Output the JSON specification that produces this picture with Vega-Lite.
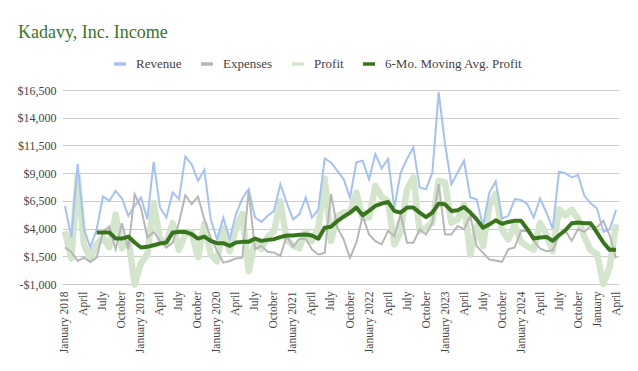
{
  "$schema": "https://vega.github.io/schema/vega-lite/v6.json",
  "width": 557,
  "height": 194,
  "autosize": {"type": "none"},
  "padding": {"left": 62, "top": 90, "right": 19, "bottom": 87},
  "background": "white",
  "title": {"text": "Kadavy, Inc. Income", "anchor": "start", "frame": "group", "color": "#38761d", "fontSize": 18, "fontWeight": "normal", "font": "Liberation Serif", "dx": -44, "offset": 14},
  "config": {"font": "Liberation Serif", "view": {"stroke": null}},
  "data": {"values": [
    {"d":"2018-01","Revenue":6050,"Expenses":2300,"Profit":3750,"MA":null},
    {"d":"2018-02","Revenue":3190,"Expenses":1890,"Profit":1300,"MA":null},
    {"d":"2018-03","Revenue":9810,"Expenses":1080,"Profit":8730,"MA":null},
    {"d":"2018-04","Revenue":3940,"Expenses":1380,"Profit":2560,"MA":null},
    {"d":"2018-05","Revenue":2290,"Expenses":990,"Profit":1300,"MA":null},
    {"d":"2018-06","Revenue":3940,"Expenses":1380,"Profit":2560,"MA":3640},
    {"d":"2018-07","Revenue":6890,"Expenses":3700,"Profit":3190,"MA":3640},
    {"d":"2018-08","Revenue":6500,"Expenses":4180,"Profit":2320,"MA":3640},
    {"d":"2018-09","Revenue":7400,"Expenses":2140,"Profit":5260,"MA":3100},
    {"d":"2018-10","Revenue":6710,"Expenses":4480,"Profit":2230,"MA":3100},
    {"d":"2018-11","Revenue":5150,"Expenses":2140,"Profit":3010,"MA":3280},
    {"d":"2018-12","Revenue":6050,"Expenses":7100,"Profit":-1050,"MA":2740},
    {"d":"2019-01","Revenue":6800,"Expenses":5900,"Profit":900,"MA":2290},
    {"d":"2019-02","Revenue":4850,"Expenses":3190,"Profit":1660,"MA":2350},
    {"d":"2019-03","Revenue":10020,"Expenses":3700,"Profit":6320,"MA":2500},
    {"d":"2019-04","Revenue":5900,"Expenses":2890,"Profit":3010,"MA":2650},
    {"d":"2019-05","Revenue":5000,"Expenses":2290,"Profit":2710,"MA":2740},
    {"d":"2019-06","Revenue":7250,"Expenses":2740,"Profit":4510,"MA":3640},
    {"d":"2019-07","Revenue":6650,"Expenses":4550,"Profit":2100,"MA":3700},
    {"d":"2019-08","Revenue":10500,"Expenses":7010,"Profit":3490,"MA":3700},
    {"d":"2019-09","Revenue":9810,"Expenses":6200,"Profit":3610,"MA":3490},
    {"d":"2019-10","Revenue":8300,"Expenses":6890,"Profit":1410,"MA":3100},
    {"d":"2019-11","Revenue":9300,"Expenses":4850,"Profit":4450,"MA":3280},
    {"d":"2019-12","Revenue":4850,"Expenses":3190,"Profit":1660,"MA":2890},
    {"d":"2020-01","Revenue":3040,"Expenses":1990,"Profit":1050,"MA":2680},
    {"d":"2020-02","Revenue":5000,"Expenses":930,"Profit":4070,"MA":2680},
    {"d":"2020-03","Revenue":3040,"Expenses":1080,"Profit":1960,"MA":2440},
    {"d":"2020-04","Revenue":5300,"Expenses":1300,"Profit":4000,"MA":2740},
    {"d":"2020-05","Revenue":6710,"Expenses":1380,"Profit":5330,"MA":2800},
    {"d":"2020-06","Revenue":7550,"Expenses":7400,"Profit":150,"MA":2800},
    {"d":"2020-07","Revenue":5000,"Expenses":2140,"Profit":2860,"MA":3100},
    {"d":"2020-08","Revenue":4600,"Expenses":2440,"Profit":2160,"MA":2890},
    {"d":"2020-09","Revenue":5150,"Expenses":1900,"Profit":3250,"MA":2980},
    {"d":"2020-10","Revenue":5600,"Expenses":1830,"Profit":3770,"MA":3040},
    {"d":"2020-11","Revenue":8000,"Expenses":1530,"Profit":6470,"MA":3230},
    {"d":"2020-12","Revenue":6340,"Expenses":3320,"Profit":3020,"MA":3380},
    {"d":"2021-01","Revenue":4830,"Expenses":2360,"Profit":2470,"MA":3380},
    {"d":"2021-02","Revenue":5290,"Expenses":3080,"Profit":2210,"MA":3440},
    {"d":"2021-03","Revenue":6800,"Expenses":3080,"Profit":3720,"MA":3470},
    {"d":"2021-04","Revenue":4980,"Expenses":2110,"Profit":2870,"MA":3380},
    {"d":"2021-05","Revenue":5740,"Expenses":1660,"Profit":4080,"MA":3080},
    {"d":"2021-06","Revenue":10330,"Expenses":1810,"Profit":8520,"MA":4080},
    {"d":"2021-07","Revenue":9970,"Expenses":7100,"Profit":2870,"MA":4170},
    {"d":"2021-08","Revenue":9210,"Expenses":4080,"Profit":5130,"MA":4680},
    {"d":"2021-09","Revenue":8460,"Expenses":3020,"Profit":5440,"MA":5070},
    {"d":"2021-10","Revenue":6800,"Expenses":1360,"Profit":5440,"MA":5440},
    {"d":"2021-11","Revenue":9970,"Expenses":2720,"Profit":7250,"MA":5890},
    {"d":"2021-12","Revenue":10120,"Expenses":5130,"Profit":4990,"MA":5200},
    {"d":"2022-01","Revenue":8460,"Expenses":3470,"Profit":4990,"MA":5590},
    {"d":"2022-02","Revenue":10720,"Expenses":2870,"Profit":7850,"MA":6040},
    {"d":"2022-03","Revenue":9420,"Expenses":2570,"Profit":6850,"MA":6250},
    {"d":"2022-04","Revenue":10270,"Expenses":3780,"Profit":6490,"MA":6400},
    {"d":"2022-05","Revenue":5900,"Expenses":3320,"Profit":2580,"MA":5590},
    {"d":"2022-06","Revenue":9060,"Expenses":5350,"Profit":3710,"MA":5440},
    {"d":"2022-07","Revenue":10270,"Expenses":2720,"Profit":7550,"MA":5890},
    {"d":"2022-08","Revenue":11330,"Expenses":2720,"Profit":8610,"MA":5890},
    {"d":"2022-09","Revenue":7700,"Expenses":3930,"Profit":3770,"MA":5440},
    {"d":"2022-10","Revenue":7550,"Expenses":3470,"Profit":4080,"MA":5040},
    {"d":"2022-11","Revenue":9060,"Expenses":4530,"Profit":4530,"MA":5440},
    {"d":"2022-12","Revenue":16300,"Expenses":8000,"Profit":8300,"MA":6250},
    {"d":"2023-01","Revenue":11630,"Expenses":3470,"Profit":8160,"MA":6190},
    {"d":"2023-02","Revenue":8000,"Expenses":3470,"Profit":4530,"MA":5590},
    {"d":"2023-03","Revenue":9060,"Expenses":4230,"Profit":4830,"MA":5650},
    {"d":"2023-04","Revenue":10120,"Expenses":3930,"Profit":6190,"MA":5950},
    {"d":"2023-05","Revenue":6800,"Expenses":5140,"Profit":1660,"MA":5440},
    {"d":"2023-06","Revenue":6650,"Expenses":2420,"Profit":4230,"MA":4830},
    {"d":"2023-07","Revenue":4230,"Expenses":1810,"Profit":2420,"MA":4080},
    {"d":"2023-08","Revenue":7250,"Expenses":1210,"Profit":6040,"MA":4380},
    {"d":"2023-09","Revenue":8250,"Expenses":1120,"Profit":7130,"MA":4740},
    {"d":"2023-10","Revenue":4900,"Expenses":1000,"Profit":3900,"MA":4430},
    {"d":"2023-11","Revenue":5150,"Expenses":2140,"Profit":3010,"MA":4600},
    {"d":"2023-12","Revenue":6650,"Expenses":2290,"Profit":4360,"MA":4700},
    {"d":"2024-01","Revenue":6590,"Expenses":3790,"Profit":2800,"MA":4700},
    {"d":"2024-02","Revenue":6200,"Expenses":3800,"Profit":2400,"MA":3940},
    {"d":"2024-03","Revenue":5000,"Expenses":2900,"Profit":2100,"MA":3100},
    {"d":"2024-04","Revenue":6710,"Expenses":2200,"Profit":4510,"MA":3190},
    {"d":"2024-05","Revenue":5450,"Expenses":1960,"Profit":3490,"MA":3250},
    {"d":"2024-06","Revenue":4000,"Expenses":2050,"Profit":1950,"MA":2890},
    {"d":"2024-07","Revenue":9120,"Expenses":3400,"Profit":5720,"MA":3400},
    {"d":"2024-08","Revenue":9000,"Expenses":3800,"Profit":5200,"MA":3850},
    {"d":"2024-09","Revenue":8610,"Expenses":2900,"Profit":5710,"MA":4480},
    {"d":"2024-10","Revenue":8820,"Expenses":3950,"Profit":4870,"MA":4540},
    {"d":"2024-11","Revenue":6950,"Expenses":3700,"Profit":3250,"MA":4480},
    {"d":"2024-12","Revenue":6290,"Expenses":4250,"Profit":2040,"MA":4480},
    {"d":"2025-01","Revenue":5810,"Expenses":4100,"Profit":1710,"MA":3640},
    {"d":"2025-02","Revenue":3700,"Expenses":4700,"Profit":-1000,"MA":2740},
    {"d":"2025-03","Revenue":3940,"Expenses":3400,"Profit":540,"MA":2080},
    {"d":"2025-04","Revenue":5690,"Expenses":1300,"Profit":4390,"MA":2080}
  ]},
  "encoding": {
    "x": {
      "field": "d", "type": "ordinal",
      "scale": {"type": "point", "padding": 0.47},
      "axis": {
        "title": null, "grid": false, "domain": false, "ticks": false,
        "labelAngle": -90, "labelFontSize": 11.5, "labelColor": "#444444", "labelPadding": 7,
        "values": ["2018-01","2018-04","2018-07","2018-10","2019-01","2019-04","2019-07","2019-10","2020-01","2020-04","2020-07","2020-10","2021-01","2021-04","2021-07","2021-10","2022-01","2022-04","2022-07","2022-10","2023-01","2023-04","2023-07","2023-10","2024-01","2024-04","2024-07","2024-10","2025-01","2025-04"],
        "labelExpr": "substring(datum.value,5,7)=='01' ? (datum.value=='2025-01' ? 'January' : 'January ' + substring(datum.value,0,4)) : substring(datum.value,5,7)=='04' ? 'April' : substring(datum.value,5,7)=='07' ? 'July' : 'October'"
      }
    },
    "y": {
      "field": "value", "type": "quantitative",
      "scale": {"domain": [-1000, 16500], "nice": false, "zero": false},
      "axis": {
        "title": null, "domain": false, "ticks": false, "grid": true, "gridColor": "#cccccc",
        "values": [-1000, 1500, 4000, 6500, 9000, 11500, 14000, 16500],
        "labelExpr": "datum.value < 0 ? '-$' + format(-datum.value, ',') : '$' + format(datum.value, ',')",
        "labelFontSize": 12, "labelColor": "#444444", "labelPadding": 6
      }
    },
    "color": {
      "field": "series", "type": "nominal",
      "scale": {"domain": ["Revenue", "Expenses", "Profit", "MA"], "range": ["#a4c2f4", "#b7b7b7", "#d3e6cc", "#38761d"]},
      "legend": {
        "title": null, "orient": "none", "legendX": 50, "legendY": -34, "direction": "horizontal",
        "symbolType": "stroke", "symbolSize": 144, "symbolStrokeWidth": 3.5,
        "labelFontSize": 13, "labelColor": "#444444", "columnPadding": 12, "labelOffset": 8,
        "labelExpr": "datum.label == 'MA' ? '6-Mo. Moving Avg. Profit' : datum.label"
      }
    }
  },
  "layer": [
    {
      "transform": [{"fold": ["Profit"], "as": ["series", "value"]}],
      "mark": {"type": "line", "strokeWidth": 6.5, "strokeJoin": "round"}
    },
    {
      "transform": [{"fold": ["Revenue", "Expenses"], "as": ["series", "value"]}],
      "mark": {"type": "line", "strokeWidth": 2}
    },
    {
      "transform": [{"filter": "datum.MA != null"}, {"fold": ["MA"], "as": ["series", "value"]}],
      "mark": {"type": "line", "strokeWidth": 4, "strokeJoin": "round"}
    }
  ]
}
